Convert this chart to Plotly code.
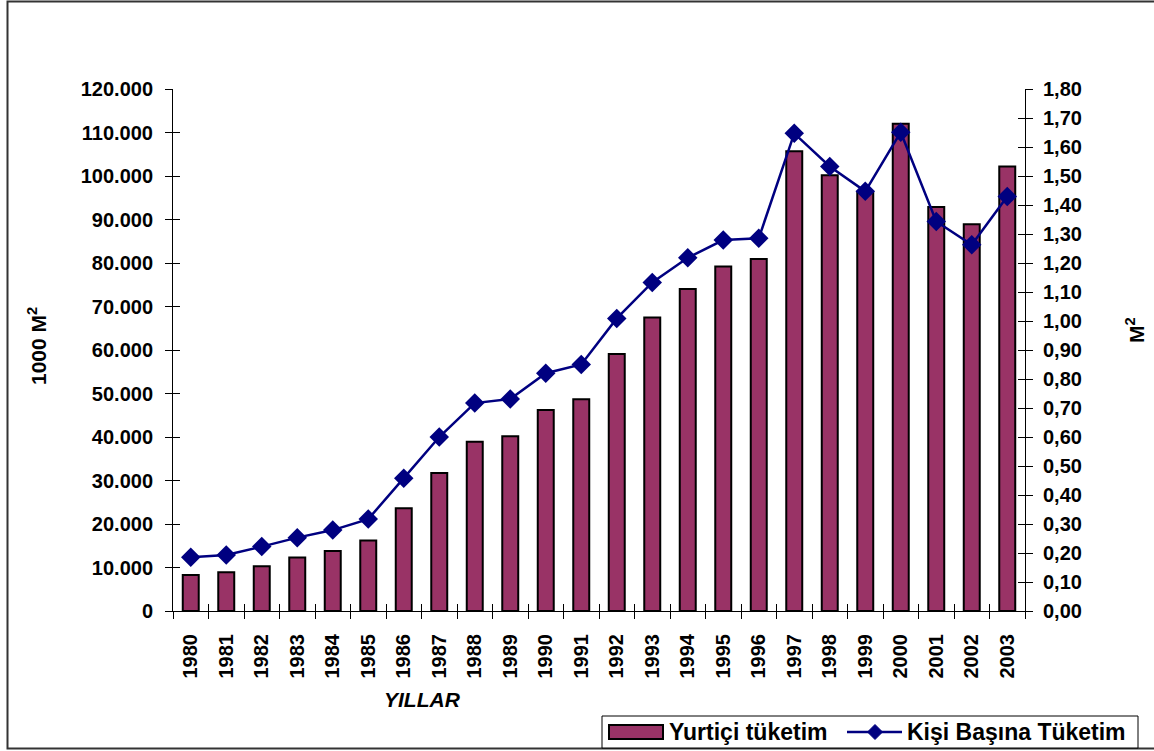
import plotly.graph_objects as go

years = [str(y) for y in range(1980, 2004)]
yurtici = [8300, 8900, 10300, 12300, 13800, 16200, 23600, 31700, 38900, 40200,
           46200, 48700, 59100, 67500, 74000, 79200, 80900, 105700, 100200, 96300,
           112000, 92900, 88900, 102200]
kisi_basina = [0.185, 0.193, 0.222, 0.253, 0.279, 0.317, 0.458, 0.60, 0.717, 0.731,
               0.82, 0.85, 1.009, 1.133, 1.218, 1.279, 1.285, 1.647, 1.533, 1.447,
               1.651, 1.343, 1.263, 1.429]
series_names = ["Yurtiçi tüketim", "Kişi Başına Tüketim"]

W, H = 1154, 751
L, R, T, B = 173, 129, 89, 140
PW, PH = W - L - R, H - T - B

def px(x):
    return (x - L) / PW

def py(y):
    return (H - B - y) / PH

FONT = "Arial, Liberation Sans, sans-serif"
ytick = dict(family=FONT, size=20, color="black", weight="bold")
xtick = dict(family=FONT, size=20, color="black", weight="bold")
BAR_COLOR = "#993366"
LINE_COLOR = "#000080"

fig = go.Figure()
fig.add_trace(go.Bar(
    x=years, y=yurtici, name=series_names[0],
    marker=dict(color=BAR_COLOR, line=dict(color="black", width=2)),
    width=0.45, xaxis="x", yaxis="y", showlegend=False,
))
fig.add_trace(go.Scatter(
    x=years, y=kisi_basina, name=series_names[1],
    mode="lines+markers",
    line=dict(color=LINE_COLOR, width=2.5),
    marker=dict(symbol="diamond", size=15, color=LINE_COLOR),
    xaxis="x", yaxis="y2", showlegend=False,
))
# helper traces to activate overlay axes (inner half of crossing ticks)
fig.add_trace(go.Scatter(x=[None], y=[None], xaxis="x2", yaxis="y3",
                         showlegend=False, hoverinfo="skip"))
fig.add_trace(go.Scatter(x=[None], y=[None], xaxis="x2", yaxis="y4",
                         showlegend=False, hoverinfo="skip"))

n = len(years)
bounds = [i - 0.5 for i in range(n + 1)]

# custom legend (box, wide bar swatch, line+diamond swatch)
ly = 732
shapes = [
    dict(type="rect", xref="paper", yref="paper",
         x0=px(7.5), x1=px(1160), y0=py(748.5), y1=py(1.5),
         line=dict(color="#333333", width=2), fillcolor="rgba(0,0,0,0)", layer="below"),
    dict(type="rect", xref="paper", yref="paper",
         x0=px(602), x1=px(1138), y0=py(748), y1=py(716),
         line=dict(color="black", width=1), fillcolor="white", layer="above"),
    dict(type="rect", xref="paper", yref="paper",
         x0=px(609), x1=px(663), y0=py(739), y1=py(725),
         line=dict(color="black", width=2), fillcolor=BAR_COLOR, layer="above"),
    dict(type="line", xref="paper", yref="paper",
         x0=px(847), x1=px(902), y0=py(ly), y1=py(ly),
         line=dict(color=LINE_COLOR, width=2.5), layer="above"),
    dict(type="path", xref="paper", yref="paper",
         path=(f"M {px(867.5)},{py(ly)} L {px(875)},{py(ly - 7.5)} "
               f"L {px(882.5)},{py(ly)} L {px(875)},{py(ly + 7.5)} Z"),
         line=dict(color=LINE_COLOR, width=1), fillcolor=LINE_COLOR, layer="above"),
]

legend_font = dict(family=FONT, size=23, color="black", weight="bold")
title_font = dict(family=FONT, size=21, color="black", weight="bold")
annotations = [
    dict(text="<i>YILLAR</i>", xref="paper", yref="paper",
         x=px(422), y=py(700), xanchor="center", yanchor="middle",
         showarrow=False, font=title_font),
    dict(text="1000 M<sup>2</sup>", xref="paper", yref="paper",
         x=px(37), y=py(346), xanchor="center", yanchor="middle",
         showarrow=False, textangle=-90, font=title_font),
    dict(text="M<sup>2</sup>", xref="paper", yref="paper",
         x=px(1135), y=py(330), xanchor="center", yanchor="middle",
         showarrow=False, textangle=-90, font=title_font),
    dict(text=series_names[0], xref="paper", yref="paper",
         x=px(667), y=py(ly), xanchor="left", yanchor="middle",
         showarrow=False, font=legend_font),
    dict(text=series_names[1], xref="paper", yref="paper",
         x=px(905), y=py(ly), xanchor="left", yanchor="middle",
         showarrow=False, font=legend_font),
]

fig.update_layout(
    width=W, height=H,
    margin=dict(l=L, r=R, t=T, b=B, autoexpand=False),
    paper_bgcolor="white", plot_bgcolor="white",
    separators=",.",
    showlegend=False,
    font=dict(family=FONT, color="black"),
    xaxis=dict(
        type="category", range=[-0.5, n - 0.5], tickangle=-90, tickfont=xtick,
        tickson="boundaries", ticks="outside", ticklen=7, tickcolor="black",
        ticklabelstandoff=14,
        showline=True, linecolor="black", linewidth=1,
        showgrid=False, zeroline=False, anchor="y", automargin=False,
    ),
    xaxis2=dict(
        overlaying="x", range=[-0.5, n - 0.5], tickvals=bounds,
        ticks="inside", ticklen=7, tickcolor="black",
        showticklabels=False, showgrid=False, zeroline=False, showline=False,
        anchor="y", side="bottom", automargin=False,
    ),
    yaxis=dict(
        range=[0, 120000], dtick=10000, tickformat=",d",
        tickfont=ytick, ticks="outside", ticklen=7, tickcolor="black",
        ticklabelstandoff=8,
        showline=True, linecolor="black", linewidth=1,
        showgrid=False, zeroline=False, automargin=False,
    ),
    yaxis2=dict(
        range=[0, 1.8], dtick=0.1, tickformat=".2f", overlaying="y", side="right",
        tickfont=ytick, ticks="outside", ticklen=7, tickcolor="black",
        ticklabelstandoff=6,
        showline=True, linecolor="black", linewidth=1,
        showgrid=False, zeroline=False, automargin=False,
    ),
    yaxis3=dict(
        range=[0, 120000], dtick=10000, overlaying="y", side="left", anchor="x",
        ticks="inside", ticklen=7, tickcolor="black", showticklabels=False,
        showgrid=False, zeroline=False, showline=False, automargin=False,
    ),
    yaxis4=dict(
        range=[0, 1.8], dtick=0.1, overlaying="y", side="right", anchor="x",
        ticks="inside", ticklen=7, tickcolor="black", showticklabels=False,
        showgrid=False, zeroline=False, showline=False, automargin=False,
    ),
    annotations=annotations,
    shapes=shapes,
)

fig.write_html("out.html", config={"displayModeBar": False},
               post_script="document.body.style.margin='0';document.body.style.overflow='hidden';")
